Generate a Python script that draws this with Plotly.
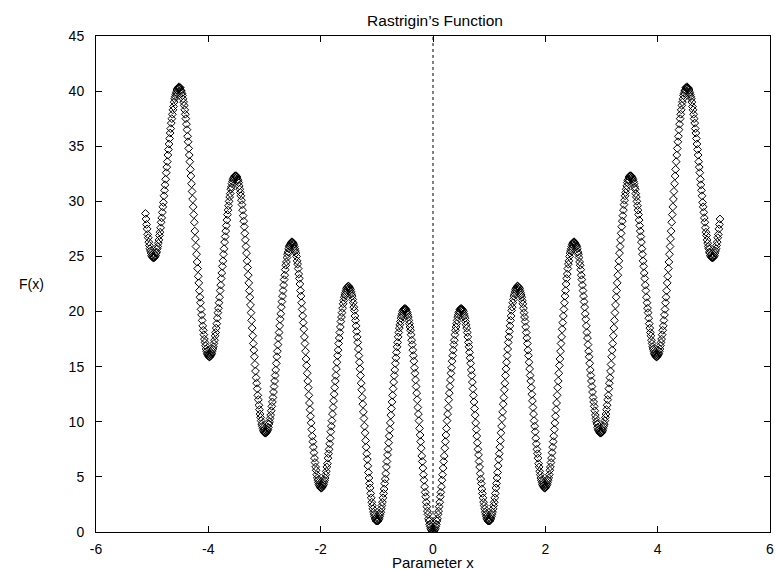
import plotly.graph_objects as go

# Values, F(x) for x >= 0 (the curve is mirror-symmetric about x = 0)
# x = 0.00 .. 0.99
f_0 = [0.0, 0.0, 0.1, 0.2, 0.3, 0.5, 0.7, 1.0, 1.2, 1.6, 1.9, 2.3, 2.7, 3.2, 3.6, 4.1, 4.7, 5.2, 5.8, 6.4,
       6.9, 7.6, 8.2, 8.8, 9.4, 10.1, 10.7, 11.3, 12.0, 12.6, 13.2, 13.8, 14.4, 14.9, 15.5, 16.0, 16.5, 17.0, 17.4, 17.9,
       18.3, 18.6, 18.9, 19.2, 19.5, 19.7, 19.9, 20.0, 20.2, 20.2, 20.3, 20.2, 20.2, 20.1, 20.0, 19.8, 19.6, 19.4, 19.1, 18.8,
       18.5, 18.1, 17.7, 17.2, 16.8, 16.3, 15.8, 15.3, 14.7, 14.2, 13.6, 13.0, 12.4, 11.8, 11.2, 10.6, 9.9, 9.3, 8.7, 8.1,
       7.5, 7.0, 6.4, 5.9, 5.3, 4.8, 4.4, 3.9, 3.5, 3.1, 2.7, 2.4, 2.1, 1.8, 1.6, 1.4, 1.2, 1.1, 1.0, 1.0]
# x = 1.00 .. 1.99
f_1 = [1.0, 1.0, 1.1, 1.2, 1.4, 1.6, 1.8, 2.1, 2.4, 2.7, 3.1, 3.5, 4.0, 4.4, 4.9, 5.4, 6.0, 6.6, 7.1, 7.7,
       8.3, 9.0, 9.6, 10.3, 10.9, 11.6, 12.2, 12.9, 13.5, 14.2, 14.8, 15.4, 16.0, 16.6, 17.2, 17.7, 18.2, 18.7, 19.2, 19.6,
       20.1, 20.4, 20.8, 21.1, 21.4, 21.6, 21.8, 22.0, 22.1, 22.2, 22.3, 22.3, 22.2, 22.2, 22.1, 21.9, 21.7, 21.5, 21.3, 21.0,
       20.7, 20.3, 19.9, 19.5, 19.1, 18.6, 18.1, 17.6, 17.1, 16.5, 16.0, 15.4, 14.8, 14.2, 13.7, 13.1, 12.5, 11.9, 11.3, 10.7,
       10.1, 9.6, 9.1, 8.5, 8.0, 7.5, 7.1, 6.7, 6.2, 5.9, 5.5, 5.2, 4.9, 4.7, 4.5, 4.3, 4.2, 4.1, 4.0, 4.0]
# x = 2.00 .. 2.99
f_2 = [4.0, 4.1, 4.2, 4.3, 4.5, 4.7, 4.9, 5.2, 5.6, 5.9, 6.3, 6.7, 7.2, 7.7, 8.2, 8.7, 9.3, 9.9, 10.5, 11.1,
       11.7, 12.4, 13.1, 13.7, 14.4, 15.1, 15.7, 16.4, 17.1, 17.7, 18.4, 19.0, 19.6, 20.2, 20.8, 21.4, 21.9, 22.5, 23.0, 23.4,
       23.9, 24.3, 24.6, 25.0, 25.3, 25.5, 25.7, 25.9, 26.1, 26.2, 26.3, 26.3, 26.3, 26.2, 26.1, 26.0, 25.9, 25.7, 25.4, 25.2,
       24.9, 24.5, 24.2, 23.8, 23.3, 22.9, 22.4, 21.9, 21.4, 20.9, 20.4, 19.8, 19.3, 18.7, 18.1, 17.6, 17.0, 16.4, 15.9, 15.3,
       14.7, 14.2, 13.7, 13.2, 12.7, 12.2, 11.8, 11.4, 11.0, 10.6, 10.3, 10.0, 9.8, 9.5, 9.3, 9.2, 9.1, 9.0, 9.0, 9.0]
# x = 3.00 .. 3.99
f_3 = [9.0, 9.1, 9.2, 9.4, 9.6, 9.8, 10.1, 10.4, 10.7, 11.1, 11.5, 12.0, 12.4, 13.0, 13.5, 14.0, 14.6, 15.2, 15.9, 16.5,
       17.1, 17.8, 18.5, 19.2, 19.9, 20.6, 21.3, 21.9, 22.6, 23.3, 24.0, 24.6, 25.3, 25.9, 26.5, 27.1, 27.7, 28.2, 28.7, 29.2,
       29.7, 30.1, 30.5, 30.8, 31.1, 31.4, 31.7, 31.9, 32.0, 32.2, 32.3, 32.3, 32.3, 32.3, 32.2, 32.1, 32.0, 31.8, 31.6, 31.3,
       31.1, 30.7, 30.4, 30.0, 29.6, 29.2, 28.8, 28.3, 27.8, 27.3, 26.8, 26.3, 25.7, 25.2, 24.6, 24.1, 23.5, 23.0, 22.4, 21.9,
       21.3, 20.8, 20.3, 19.9, 19.4, 18.9, 18.5, 18.1, 17.8, 17.4, 17.1, 16.8, 16.6, 16.4, 16.2, 16.1, 16.0, 15.9, 15.9, 15.9]
# x = 4.00 .. 4.99
f_4 = [16.0, 16.1, 16.2, 16.4, 16.6, 16.9, 17.2, 17.5, 17.9, 18.3, 18.7, 19.2, 19.7, 20.2, 20.8, 21.3, 21.9, 22.6, 23.2, 23.9,
       24.5, 25.2, 25.9, 26.6, 27.3, 28.1, 28.8, 29.5, 30.2, 30.9, 31.6, 32.3, 32.9, 33.6, 34.2, 34.8, 35.4, 35.9, 36.5, 37.0,
       37.5, 37.9, 38.3, 38.7, 39.0, 39.3, 39.6, 39.8, 40.0, 40.1, 40.3, 40.3, 40.4, 40.3, 40.3, 40.2, 40.1, 39.9, 39.7, 39.5,
       39.3, 39.0, 38.6, 38.3, 37.9, 37.5, 37.1, 36.6, 36.2, 35.7, 35.2, 34.7, 34.2, 33.6, 33.1, 32.6, 32.0, 31.5, 31.0, 30.5,
       29.9, 29.5, 29.0, 28.5, 28.1, 27.6, 27.2, 26.9, 26.5, 26.2, 25.9, 25.7, 25.4, 25.3, 25.1, 25.0, 24.9, 24.9, 24.9, 24.9]
# x = 5.00 .. 5.12
f_5 = [25.0, 25.1, 25.3, 25.5, 25.7, 26.0, 26.3, 26.7, 27.0, 27.5, 27.9, 28.4, 28.9]

x_ticks = [-6, -4, -2, 0, 2, 4, 6]
x_tick_labels = ["-6", "-4", "-2", "0", "2", "4", "6"]
y_ticks = [0, 5, 10, 15, 20, 25, 30, 35, 40, 45]
y_tick_labels = ["0", "5", "10", "15", "20", "25", "30", "35", "40", "45"]

title_text = "Rastrigin\u2019s Function"
x_label = "Parameter x"
y_label = "F(x)"

# sample grid: x = -5.12 .. 5.11 in steps of 0.01
half = f_0 + f_1 + f_2 + f_3 + f_4 + f_5          # x = 0.00 .. 5.12
n_half = len(half) - 1                              # 512
x_vals = [(i - n_half) / 100 for i in range(2 * n_half)]
y_vals = half[n_half:0:-1] + half[:n_half]

FONT = "Liberation Sans, Arial, sans-serif"
W, H = 775, 569

fig = go.Figure()
fig.add_trace(go.Scatter(
    x=x_vals, y=y_vals, mode="markers",
    marker=dict(symbol="diamond-open", size=6, color="black", line=dict(width=1, color="black")),
    showlegend=False, hoverinfo="x+y",
))

fig.add_vline(x=0, line=dict(color="black", width=1, dash="dot"), layer="below")

axis_common = dict(
    showgrid=False, zeroline=False, showline=True, linecolor="black", linewidth=1,
    mirror="ticks", ticks="inside", ticklen=6, tickwidth=1, tickcolor="black",
    tickfont=dict(family=FONT, size=14, color="black"), ticklabeloverflow="allow",
)
fig.update_xaxes(range=[-6, 6], tickvals=x_ticks, ticktext=x_tick_labels, ticklabelstandoff=4, **axis_common)
fig.update_yaxes(range=[0, 45], tickvals=y_ticks, ticktext=y_tick_labels, ticklabelstandoff=8, **axis_common)

fig.add_annotation(text=x_label, xref="paper", yref="paper", x=0.5, y=0, yshift=-30,
                   xanchor="center", yanchor="middle", showarrow=False,
                   font=dict(family=FONT, size=15, color="black"))
fig.add_annotation(text=y_label, xref="paper", yref="paper", x=-0.096, y=0.5,
                   xanchor="center", yanchor="middle", showarrow=False,
                   font=dict(family=FONT, size=14, color="black"))

fig.update_layout(
    width=W, height=H,
    margin=dict(l=96, r=1, t=36, b=37),
    paper_bgcolor="white", plot_bgcolor="white",
    title=dict(text=title_text, x=(435 / W), xanchor="center", y=1 - 21 / H, yanchor="middle",
               yref="container", xref="container", font=dict(family=FONT, size=15.5, color="black")),
    font=dict(family=FONT, color="black"),
)

# remove the page's default body margin so the 775x569 figure fills the window exactly
fig.write_html("out.html", config={"displayModeBar": False},
               post_script="document.body.style.margin='0';document.body.style.overflow='hidden';")
